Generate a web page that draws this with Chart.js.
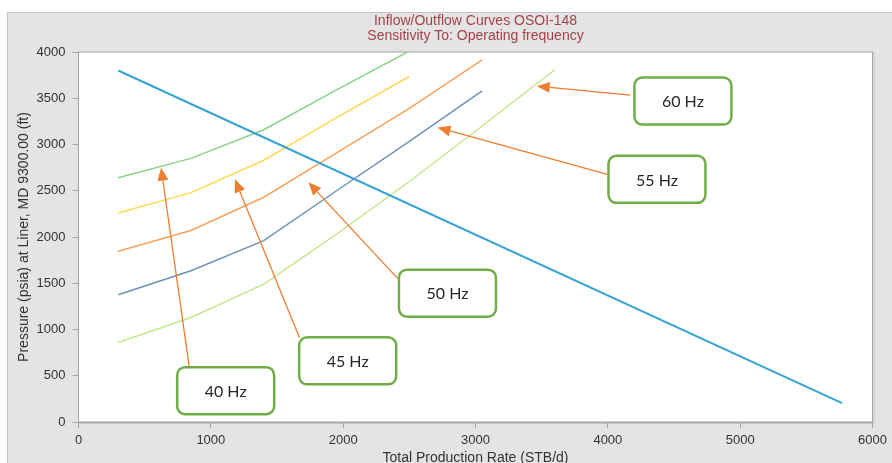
<!DOCTYPE html>
<html>
<head>
<meta charset="utf-8">
<script src="https://cdn.jsdelivr.net/npm/chart.js@4/dist/chart.umd.min.js"></script>
<style>
  html, body { margin: 0; padding: 0; background: #fff; }
  #wrap { width: 892px; height: 463px; position: relative; }
</style>
</head>
<body>
<div id="wrap"><canvas id="ioChart"></canvas></div>
<script>
// inflow (IPR) line
const iprRates = [300, 5770];
const iprPressures = [3800, 205];

// outflow (VLP) curves per operating frequency
const vlpRates = [300, 850, 1400, 1950, 2500, 3050, 3600];
const vlp40 = [2640, 2850, 3160, 3590, 4010];
const vlp45 = [2260, 2480, 2830, 3290, 3735];
const vlp50 = [1845, 2070, 2430, 2910, 3390, 3915];
const vlp55 = [1375, 1635, 1960, 2500, 3035, 3580];
const vlp60 = [860, 1130, 1490, 2030, 2600, 3200, 3810];

const xTicks = [0, 1000, 2000, 3000, 4000, 5000, 6000];
const yTicks = [0, 500, 1000, 1500, 2000, 2500, 3000, 3500, 4000];

// callout boxes: label, box centre, arrow start, arrow tip (data units)
const calloutLabels = ['40 Hz', '45 Hz', '50 Hz', '55 Hz', '60 Hz'];
const calloutX = [1112, 2034, 2788, 4371, 4567];
const calloutY = [339, 661, 1393, 2623, 3469];
const arrowFromX = [837, 1670, 2413, 3996, 4169];
const arrowFromY = [596, 911, 1550, 2678, 3534];
const arrowTipX = [624, 1182, 1737, 2713, 3463];
const arrowTipY = [2750, 2623, 2591, 3184, 3631];

const FONT = '"Liberation Sans", Arial, sans-serif';

function pts(xs, ys) {
    return ys.map((y, i) => ({ x: xs[i], y: y }));
}

function vlpSet(label, values, color) {
    return {
        label: label,
        data: pts(vlpRates, values),
        borderColor: color,
        borderWidth: 1.5,
        pointRadius: 0,
        showLine: true,
        tension: 0
    };
}

const framePlugin = {
    id: 'frame',
    beforeDraw(chart) {
        const c = chart.ctx;
        const a = chart.chartArea;
        c.save();
        c.fillStyle = '#ffffff';
        c.fillRect(0, 0, chart.width, chart.height);
        c.fillStyle = '#e4e4e4';
        c.fillRect(7.5, 12.5, chart.width, chart.height);
        c.strokeStyle = '#c4c4c4';
        c.lineWidth = 1;
        c.beginPath();
        c.moveTo(7.5, chart.height);
        c.lineTo(7.5, 12.5);
        c.lineTo(chart.width, 12.5);
        c.stroke();
        c.fillStyle = '#ffffff';
        c.fillRect(a.left, a.top, a.right - a.left, a.bottom - a.top);
        c.strokeStyle = '#c8c8c8';
        c.beginPath();
        c.moveTo(a.right + 1.5, a.top);
        c.lineTo(a.right + 1.5, a.bottom + 1.5);
        c.lineTo(a.left, a.bottom + 1.5);
        c.stroke();
        c.strokeStyle = '#a4a4a4';
        c.strokeRect(a.left, a.top, a.right - a.left, a.bottom - a.top);

        // titles
        c.fillStyle = '#a8404a';
        c.font = '14px ' + FONT;
        c.textAlign = 'center';
        c.textBaseline = 'middle';
        const cx = (a.left + a.right) / 2;
        c.fillText('Inflow/Outflow Curves OSOI-148', cx, 21);
        c.fillText('Sensitivity To: Operating frequency', cx, 36);

        c.fillStyle = '#333333';
        c.fillText('Total Production Rate (STB/d)', cx, 458);
        c.translate(24, (a.top + a.bottom) / 2 + 0);
        c.rotate(-Math.PI / 2);
        c.fillText('Pressure (psia) at Liner, MD 9300.00 (ft)', 0, 0);
        c.restore();
    },
    afterDraw(chart) {
        const c = chart.ctx;
        const xs = chart.scales.x;
        const ys = chart.scales.y;
        c.save();
        for (let i = 0; i < calloutLabels.length; i++) {
            // arrow
            const fx = xs.getPixelForValue(arrowFromX[i]);
            const fy = ys.getPixelForValue(arrowFromY[i]);
            const tx = xs.getPixelForValue(arrowTipX[i]);
            const ty = ys.getPixelForValue(arrowTipY[i]);
            const ang = Math.atan2(ty - fy, tx - fx);
            const headLen = 13, headW = 5.5;
            const bx = tx - headLen * Math.cos(ang);
            const by = ty - headLen * Math.sin(ang);
            c.strokeStyle = '#ed7d31';
            c.fillStyle = '#ed7d31';
            c.lineWidth = 1.3;
            c.beginPath();
            c.moveTo(fx, fy);
            c.lineTo(bx, by);
            c.stroke();
            c.beginPath();
            c.moveTo(tx, ty);
            c.lineTo(bx + headW * Math.sin(ang), by - headW * Math.cos(ang));
            c.lineTo(bx - headW * Math.sin(ang), by + headW * Math.cos(ang));
            c.closePath();
            c.fill();

            // box
            const w = 97, h = 47;
            const px = xs.getPixelForValue(calloutX[i]);
            const py = ys.getPixelForValue(calloutY[i]);
            c.beginPath();
            c.roundRect(px - w / 2, py - h / 2, w, h, 8);
            c.fillStyle = '#ffffff';
            c.fill();
            c.strokeStyle = '#70ad47';
            c.lineWidth = 2.5;
            c.stroke();
            c.fillStyle = '#262626';
            c.font = '16px Lato, "Open Sans", sans-serif';
            c.textAlign = 'center';
            c.textBaseline = 'middle';
            c.fillText(calloutLabels[i], px, py + 1);
        }
        c.restore();
    }
};

const ctx = document.getElementById('ioChart').getContext('2d');
const ioChart = new Chart(ctx, {
    type: 'scatter',
    data: {
        datasets: [
            {
                label: 'IPR',
                data: pts(iprRates, iprPressures),
                borderColor: '#35a2d2',
                borderWidth: 2,
                pointRadius: 0,
                showLine: true
            },
            vlpSet('40 Hz', vlp40, '#88d488'),
            vlpSet('45 Hz', vlp45, '#ffd850'),
            vlpSet('50 Hz', vlp50, '#f9a25c'),
            vlpSet('55 Hz', vlp55, '#6e91b6'),
            vlpSet('60 Hz', vlp60, '#c9e68e')
        ]
    },
    options: {
        responsive: true,
        maintainAspectRatio: false,
        animation: false,
        layout: {
            padding: { left: 8, top: 52, right: 14, bottom: 0 }
        },
        scales: {
            x: {
                type: 'linear',
                min: 0,
                max: 6000,
                afterBuildTicks: (s) => { s.ticks = xTicks.map(v => ({ value: v })); },
                afterFit: (s) => { s.height = 41; },
                ticks: {
                    color: '#333333',
                    padding: 5,
                    callback: (v) => String(v),
                    font: { family: FONT, size: 13 }
                },
                grid: { drawOnChartArea: false, tickLength: 6, color: '#a4a4a4' },
                border: { color: '#a4a4a4' }
            },
            y: {
                type: 'linear',
                min: 0,
                max: 4000,
                afterBuildTicks: (s) => { s.ticks = yTicks.map(v => ({ value: v })); },
                afterFit: (s) => { s.width = 70.5; },
                ticks: {
                    color: '#333333',
                    padding: 7,
                    callback: (v) => String(v),
                    font: { family: FONT, size: 13 }
                },
                grid: { drawOnChartArea: false, tickLength: 6, color: '#a4a4a4' },
                border: { color: '#a4a4a4' }
            }
        },
        plugins: {
            legend: { display: false },
            tooltip: { enabled: false }
        }
    },
    plugins: [framePlugin]
});
</script>
</body>
</html>
